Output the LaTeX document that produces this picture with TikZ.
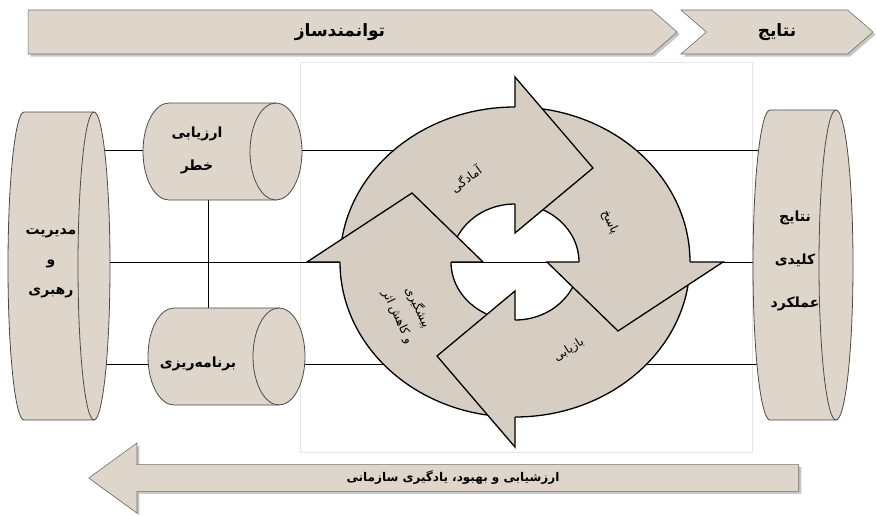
\documentclass[tikz,border=0pt]{standalone}
\usepackage{fontspec}
\usepackage{tikz}
\usetikzlibrary{shapes.symbols}
\usetikzlibrary{shapes.arrows}
\usetikzlibrary{shadows}
\usetikzlibrary{backgrounds}
\newfontfamily\fafont[Script=Arabic]{DejaVu Sans}
\TeXXeTstate=1
\newcommand{\fa}[1]{\fafont\beginR #1\endR}
\definecolor{stone}{RGB}{222,214,202}
\definecolor{wood}{RGB}{214,206,194}
\definecolor{rim}{RGB}{75,75,75}
% lying drum: left x, right x, mid y, x radius, y radius
\newcommand{\drum}[5]{%
  \draw[drumpart] (#2,#3-#5) arc[start angle=90, end angle=-90, x radius=#4pt, y radius=#5pt]
        -- (#1,#3+#5) arc[start angle=270, end angle=90, x radius=#4pt, y radius=#5pt] -- cycle;
  \draw[drumpart, fill=none] (#2,#3-#5) arc[start angle=90, end angle=270, x radius=#4pt, y radius=#5pt];
}

\begin{document}
\begin{tikzpicture}[
x                  = 1pt,
y                  = -1pt,
every node/.style  = {font=\bfseries\fontsize{14}{30}\selectfont, align=center},
drumpart/.style    = {draw=rim, fill=stone, line width=0.8pt},
banner/.style      = {signal, draw=rim!80, fill=stone, line width=0.6pt, signal pointer angle=82,
                      minimum height=44pt, drop shadow={shadow xshift=2.5pt, shadow yshift=-2.5pt, opacity=.45}},
ringpart/.style    = {draw=black, fill=wood, line width=1.3pt},
headfill/.style    = {fill=wood},
phase/.style       = {font=\fontsize{12}{22}\selectfont},
link/.style        = {draw=black, line width=1pt}
]
\useasboundingbox (0,0) rectangle (876,515);

% top bar
\node [banner, signal to=east, minimum width=649pt] (enable) at (340,32) {\fontsize{17}{20}\selectfont\fa{توانمندساز}};
\node [banner, signal from=west, signal to=east, minimum width=192pt] (result) at (777,32) {\fontsize{17}{20}\selectfont\fa{نتایج}};

% drums
\drum{24}{94}{266}{16}{154}
\drum{169}{276}{151.5}{26}{48.5}
\drum{174}{279}{356.5}{26}{48.5}
\drum{770}{836}{265}{17}{155}

\node (lead) at (51,263) {\fa{مدیریت}\\\fa{و}\\\fa{رهبری}};
\node [font=\bfseries\fontsize{14}{33}\selectfont] (risk) at (197,150) {\fa{ارزیابی}\\\fa{خطر}};
\node (plan) at (198,364) {\fa{برنامه‌ریزی}};
\node [font=\bfseries\fontsize{14}{43}\selectfont] (kpi) at (795,261) {\fa{نتایج}\\\fa{کلیدی}\\\fa{عملکرد}};

\coordinate (hub) at (515,262);
\coordinate (spine) at (208,262);

\begin{scope}[on background layer]
\draw[black!10] (300,62) rectangle (752,452);
\draw[link] (lead |- risk) -- (kpi |- risk);
\draw[link] (lead |- hub) -- (kpi |- hub);
\draw[link] (lead |- plan) -- (kpi |- plan);
\draw[link] (spine |- risk) -- (spine |- plan);
\end{scope}

% cycle
\path[ringpart, even odd rule] (hub) ellipse [x radius=175pt, y radius=155pt]
                               (hub) ellipse [x radius=64pt, y radius=58pt];
\fill[headfill] (515,77) -- (593,168) -- (515,233) -- cycle;
\draw[ringpart, fill=none] (515,107) -- (515,77) -- (593,168) -- (515,233) -- (515,204);
\fill[headfill] (723,262) -- (618,331) -- (547,262) -- cycle;
\draw[ringpart, fill=none] (690,262) -- (723,262) -- (618,331) -- (547,262) -- (579,262);
\fill[headfill] (515,447) -- (437,356) -- (515,291) -- cycle;
\draw[ringpart, fill=none] (515,417) -- (515,447) -- (437,356) -- (515,291) -- (515,320);
\fill[headfill] (307,262) -- (412,193) -- (483,262) -- cycle;
\draw[ringpart, fill=none] (340,262) -- (307,262) -- (412,193) -- (483,262) -- (451,262);

\node [phase, rotate=36] (ready) at (466,179) {\fa{آمادگی}};
\node [phase, rotate=-65] (reply) at (610,222) {\fa{پاسخ}};
\node [phase, rotate=32] (recover) at (569,350) {\fa{بازیابی}};
\node [phase, rotate=-65] (prevent) at (408,312) {\fa{پیشگیری}\\\fa{و کاهش اثر}};

% bottom bar
\node [single arrow, shape border rotate=180, draw=rim!80, fill=stone, line width=0.6pt,
       minimum height=710pt, minimum width=70pt, single arrow head extend=17pt, single arrow tip angle=72,
       drop shadow={shadow xshift=2.5pt, shadow yshift=-2.5pt, opacity=.45},
       font=\bfseries\fontsize{12}{16}\selectfont] (learn) at (453,478)
      {\fa{ارزشیابی و بهبود، یادگیری سازمانی}};
\end{tikzpicture}
\end{document}
